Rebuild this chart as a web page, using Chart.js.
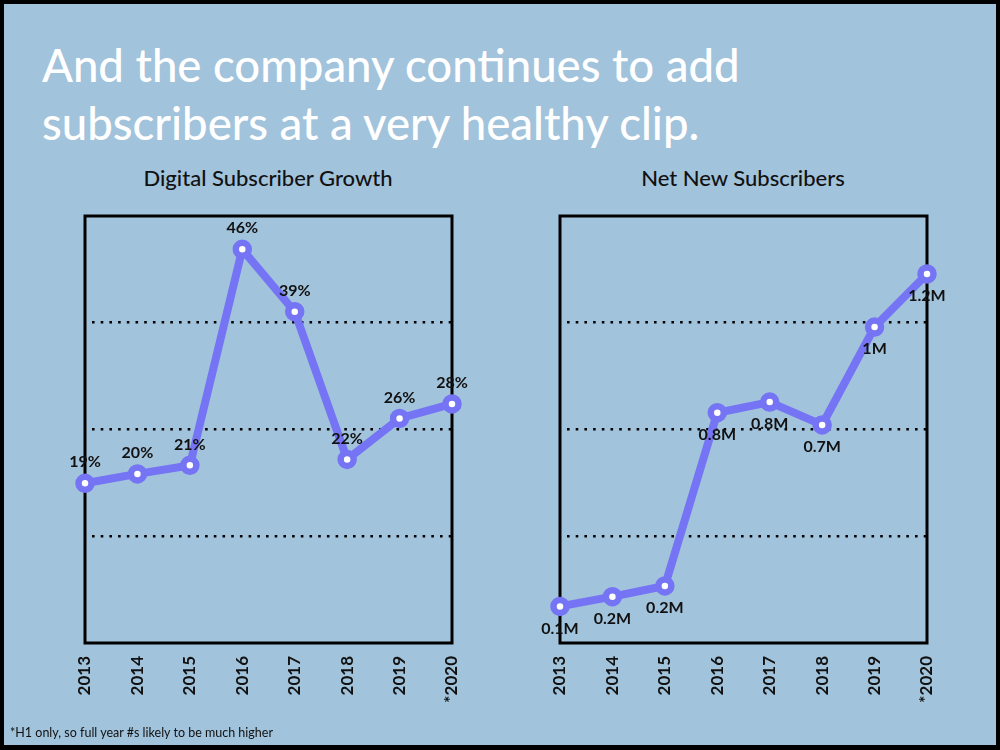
<!DOCTYPE html>
<html><head><meta charset="utf-8">
<script src="https://cdn.jsdelivr.net/npm/chart.js@4.4.1/dist/chart.umd.min.js"></script>
<style>
html,body{margin:0;padding:0;}
body{width:1000px;height:750px;overflow:hidden;background:#000;position:relative;font-family:Lato,'Open Sans',sans-serif;}
#frame{position:absolute;left:4px;top:4px;width:992px;height:741px;background:#a2c3dc;}
#title{position:absolute;left:42px;top:36px;color:#fff;font-size:45.5px;line-height:58px;font-weight:500;white-space:nowrap;}
.sub{position:absolute;top:164px;width:400px;text-align:center;font-size:22px;color:#111;font-weight:500;}
#foot{position:absolute;left:10px;top:725px;font-size:12.5px;color:#111;}
canvas{position:absolute;top:0;}
</style></head>
<body>
<div id="frame"></div>
<div id="title">And the company continues to add<br>subscribers at a very healthy clip.</div>
<div class="sub" style="left:68px">Digital Subscriber Growth</div>
<div class="sub" style="left:543px">Net New Subscribers</div>
<canvas id="c1" width="500" height="750" style="left:0"></canvas>
<canvas id="c2" width="500" height="750" style="left:500px"></canvas>
<div id="foot">*H1 only, so full year #s likely to be much higher</div>
<script>
const years = ['2013','2014','2015','2016','2017','2018','2019','*2020'];
const growthPct = [18.7, 19.8, 20.8, 46.1, 38.8, 21.5, 26.3, 28.0];
const netNewM = [0.12, 0.152, 0.187, 0.755, 0.79, 0.715, 1.036, 1.21];
const growthAxis = {min: 0, max: 50, step: 12.5};
const netAxis = {min: 0, max: 1.4, step: 0.35};

const LINE = '#7474f4';
const FONT = "Lato, 'Open Sans', sans-serif";

function makeBoxPlugin(fmt, offset) {
  return {
    id: 'box',
    beforeDatasetsDraw(chart) {
      const a = chart.chartArea;
      const ctx = chart.ctx;
      ctx.save();
      ctx.strokeStyle = '#000';
      ctx.lineWidth = 3;
      ctx.strokeRect(a.left, a.top, a.right - a.left, a.bottom - a.top);
      ctx.restore();
    },
    afterDatasetsDraw(chart) {
      const ctx = chart.ctx;
      const meta = chart.getDatasetMeta(0);
      ctx.save();
      ctx.font = 'bold 16px ' + FONT;
      ctx.fillStyle = '#111';
      ctx.textAlign = 'center';
      ctx.textBaseline = 'middle';
      meta.data.forEach((pt, i) => {
        const v = chart.data.datasets[0].data[i];
        ctx.fillText(fmt(v), pt.x, pt.y + offset);
      });
      ctx.restore();
    }
  };
}

function makeChart(id, values, axis, pad, fmt, offset) {
  return new Chart(document.getElementById(id), {
    type: 'line',
    data: {
      labels: years,
      datasets: [{
        data: values,
        borderColor: LINE,
        borderWidth: 8,
        pointRadius: 6.5,
        pointBorderWidth: 6.5,
        pointBackgroundColor: '#fff',
        pointBorderColor: LINE,
        tension: 0,
        clip: false
      }]
    },
    options: {
      responsive: false,
      devicePixelRatio: 1,
      animation: false,
      layout: {padding: pad},
      plugins: {
        legend: {display: false},
        tooltip: {enabled: false}
      },
      scales: {
        x: {
          offset: false,
          grid: {display: false},
          border: {display: false},
          ticks: {
            minRotation: 90, maxRotation: 90, padding: 5,
            color: '#111',
            font: {family: FONT, size: 17, weight: 'bold'}
          },
          afterFit(s) { s.height = 100; }
        },
        y: {
          min: axis.min, max: axis.max,
          ticks: {display: false, stepSize: axis.step},
          border: {display: false, dash: [2.6, 6.1], dashOffset: -7},
          grid: {
            drawTicks: false,
            lineWidth: 2.6,
            color: (c) => (c.tick && (Math.abs(c.tick.value - axis.min) < 1e-9 || Math.abs(c.tick.value - axis.max) < 1e-9)) ? 'rgba(0,0,0,0)' : '#000'
          },
          afterFit(s) { s.width = 0; }
        }
      }
    },
    plugins: [makeBoxPlugin(fmt, offset)]
  });
}

makeChart('c1', growthPct, growthAxis, {left: 85, right: 48, top: 216, bottom: 7},
  v => Math.round(v) + '%', -21);
makeChart('c2', netNewM, netAxis, {left: 60, right: 73, top: 216, bottom: 7},
  v => (Math.round(v * 10) / 10) + 'M', 22);
</script>
</body></html>
